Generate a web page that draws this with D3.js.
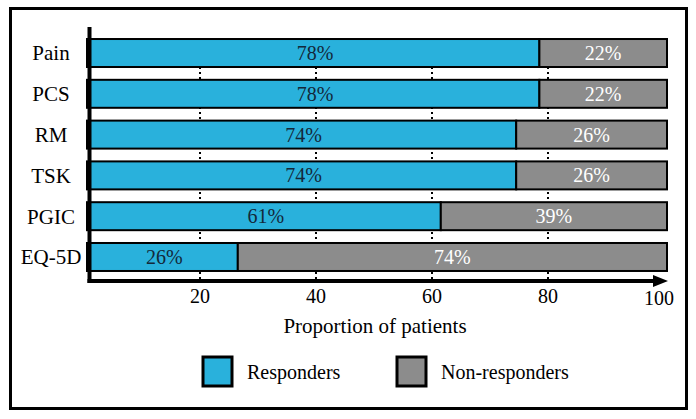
<!DOCTYPE html>
<html>
<head>
<meta charset="utf-8">
<script src="https://cdn.jsdelivr.net/npm/d3@7"></script>
<style>
  body { margin: 0; background: #fff; }
</style>
</head>
<body>
<div id="chart"></div>
<script>
var categories = ["Pain", "PCS", "RM", "TSK", "PGIC", "EQ-5D"];
var responders = [78, 78, 74, 74, 61, 26];
var nonResponders = [22, 22, 26, 26, 39, 74];
var tickValues = [20, 40, 60, 80, 100];
var seriesNames = ["Responders", "Non-responders"];

var svgwidth = 696;
var svgheight = 419;
var blue = "#29b1dc";
var grey = "#8c8c8c";
var serif = "'Liberation Serif'";

var svg = d3.select("#chart").append("svg")
    .attr("width", svgwidth)
    .attr("height", svgheight);

// outer frame
svg.append("rect")
    .attr("x", 10.5).attr("y", 8.5)
    .attr("width", 676).attr("height", 400)
    .attr("fill", "none").attr("stroke", "#000").attr("stroke-width", 3);

var xScale = d3.scaleLinear().domain([0, 100]).range([87, 667]);
var yScale = d3.scaleBand()
    .domain(categories)
    .range([32.9, 277.1])
    .paddingInner(0.314)
    .paddingOuter(0.15);

var axisY = 281;
var axisX = 89.5;

// dotted grid lines in the gaps
var gridTop = yScale(categories[0]) + yScale.bandwidth();
svg.append("g").selectAll("line")
    .data(tickValues.filter(d => d < 100))
    .enter().append("line")
    .attr("x1", d => xScale(d) - 3).attr("x2", d => xScale(d) - 3)
    .attr("y1", gridTop).attr("y2", axisY)
    .attr("stroke", "#000").attr("stroke-width", 2)
    .attr("stroke-dasharray", "2,3");

var rows = categories.map((c, i) => ({ cat: c, r: responders[i], n: nonResponders[i] }));

var rowG = svg.append("g").selectAll("g")
    .data(rows)
    .enter().append("g")
    .attr("transform", d => `translate(0, ${yScale(d.cat)})`);

rowG.append("rect")
    .attr("x", d => xScale(0))
    .attr("width", d => xScale(d.r) - xScale(0))
    .attr("height", yScale.bandwidth())
    .attr("fill", blue).attr("stroke", "#000").attr("stroke-width", 2);

rowG.append("rect")
    .attr("x", d => xScale(d.r))
    .attr("width", d => xScale(d.r + d.n) - xScale(d.r))
    .attr("height", yScale.bandwidth())
    .attr("fill", grey).attr("stroke", "#000").attr("stroke-width", 2);

rowG.append("text")
    .attr("x", d => (xScale(0) + xScale(d.r)) / 2 + 2)
    .attr("y", yScale.bandwidth() / 2)
    .attr("dy", "0.35em")
    .attr("text-anchor", "middle")
    .attr("font-size", 20)
    .style("font-family", serif)
    .attr("fill", "#13283a")
    .text(d => d.r + "%");

rowG.append("text")
    .attr("x", d => (xScale(d.r) + xScale(d.r + d.n)) / 2)
    .attr("y", yScale.bandwidth() / 2)
    .attr("dy", "0.35em")
    .attr("text-anchor", "middle")
    .attr("font-size", 20)
    .style("font-family", serif)
    .attr("fill", "#fff")
    .text(d => d.n + "%");

// category labels
svg.append("g").selectAll("text")
    .data(categories)
    .enter().append("text")
    .attr("x", 51)
    .attr("y", d => yScale(d) + yScale.bandwidth() / 2)
    .attr("dy", "0.35em")
    .attr("text-anchor", "middle")
    .attr("font-size", 21)
    .style("font-family", serif)
    .text(d => d);

// axes lines
svg.append("line")
    .attr("x1", axisX).attr("x2", axisX)
    .attr("y1", 27).attr("y2", axisY + 2)
    .attr("stroke", "#000").attr("stroke-width", 4);

svg.append("line")
    .attr("x1", axisX - 2).attr("x2", xScale(100) - 12)
    .attr("y1", axisY).attr("y2", axisY)
    .attr("stroke", "#000").attr("stroke-width", 4);

svg.append("path")
    .attr("d", `M${xScale(100) - 14},${axisY - 6}L${xScale(100) + 1},${axisY}L${xScale(100) - 14},${axisY + 6}Z`)
    .attr("fill", "#000");

// tick labels
svg.append("g").selectAll("text")
    .data(tickValues)
    .enter().append("text")
    .attr("x", d => d === 100 ? xScale(d) - 8 : xScale(d) - 3)
    .attr("y", d => d === 100 ? 305 : 303)
    .attr("text-anchor", "middle")
    .attr("font-size", 20)
    .style("font-family", serif)
    .text(d => d);

svg.append("text")
    .attr("x", 375).attr("y", 333)
    .attr("text-anchor", "middle")
    .attr("font-size", 21)
    .style("font-family", serif)
    .text("Proportion of patients");

// legend
var legendX = [203, 397];
var legend = svg.append("g").selectAll("g")
    .data(seriesNames)
    .enter().append("g")
    .attr("transform", (d, i) => `translate(${legendX[i]}, 357)`);

legend.append("rect")
    .attr("width", 29).attr("height", 29)
    .attr("fill", (d, i) => i === 0 ? blue : grey)
    .attr("stroke", "#000").attr("stroke-width", 3);

legend.append("text")
    .attr("x", 44).attr("y", 22)
    .attr("font-size", 20)
    .style("font-family", serif)
    .text(d => d);
</script>
</body>
</html>
